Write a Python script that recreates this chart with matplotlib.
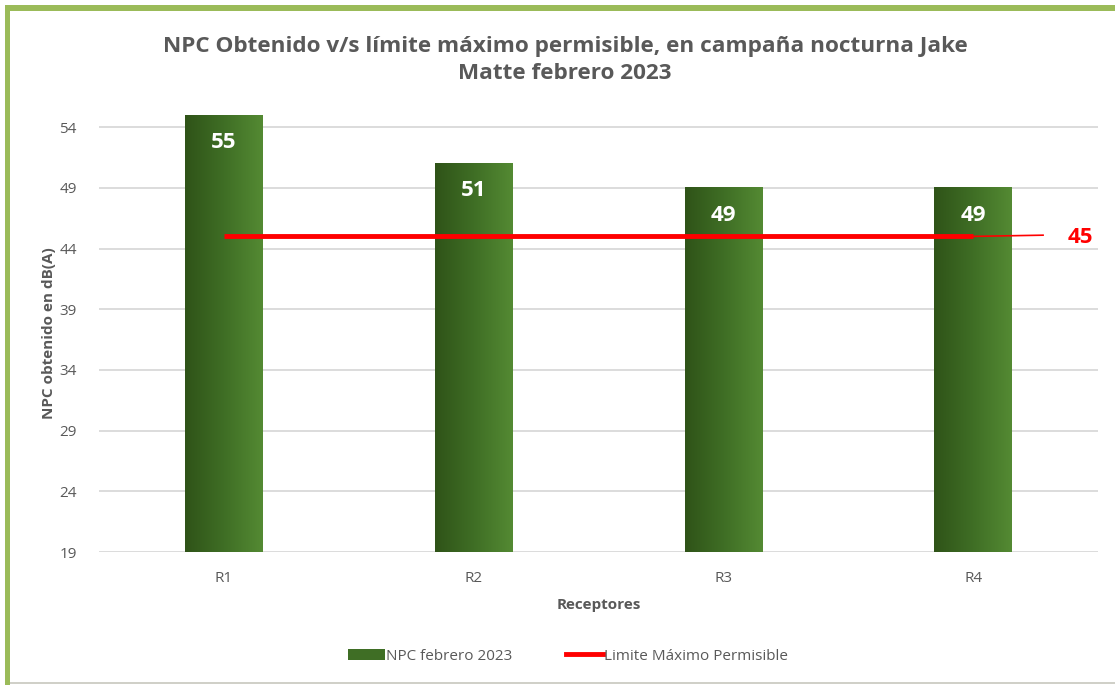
import matplotlib
matplotlib.use("Agg")
import matplotlib.pyplot as plt
import numpy as np
from matplotlib.patches import Rectangle
from matplotlib.lines import Line2D
from matplotlib.colors import LinearSegmentedColormap

categories = ["R1", "R2", "R3", "R4"]
npc_values = [55, 51, 49, 49]
limit_values = [45, 45, 45, 45]
y_ticks = [19, 24, 29, 34, 39, 44, 49, 54]
title = "NPC Obtenido v/s límite máximo permisible, en campaña nocturna Jake\nMatte febrero 2023"

plt.rcParams['font.family'] = ['Open Sans', 'DejaVu Sans']

W, H = 1115, 685
fig = plt.figure(figsize=(W / 100, H / 100), dpi=100)

# outer frame
fig.patches.append(Rectangle((5 / W, 0), 5 / W, 1 - 5 / H, transform=fig.transFigure,
                             facecolor='#9BBB59', edgecolor='none'))
fig.patches.append(Rectangle((5 / W, 1 - 11 / H), 1 - 5 / W, 6 / H, transform=fig.transFigure,
                             facecolor='#9BBB59', edgecolor='none'))
fig.patches.append(Rectangle((10 / W, 1 / H), 1 - 10 / W, 2 / H, transform=fig.transFigure,
                             facecolor='#D0D0C8', edgecolor='none'))

ax = fig.add_axes([99 / W, 1 - 552 / H, (1098 - 99) / W, (552 - 115) / H])
x = np.arange(len(categories))
ax.set_xlim(-0.5, len(categories) - 0.5)
ax.set_ylim(19, 55)

cmap = LinearSegmentedColormap.from_list('g', ['#2F5318', '#3F6E25', '#548A33'])
grad = np.linspace(0, 1, 256).reshape(1, -1)
bw = 0.31
for xi, v in zip(x, npc_values):
    ax.imshow(grad, cmap=cmap, aspect='auto', extent=(xi - bw / 2, xi + bw / 2, 19, v),
              zorder=2, interpolation='bilinear')
    ax.text(xi, v - 2.25, f"{v}", ha='center', va='center', color='white',
            fontsize=16, fontweight='bold', zorder=4)
ax.set_aspect('auto')

ax.plot(x, limit_values, color='#FF0000', lw=3.5, zorder=3, solid_capstyle='butt')
# leader line to label
ax.plot([x[-1], x[-1] + 0.28], [limit_values[-1], limit_values[-1] + 0.1], color='#FF0000', lw=1.2, zorder=3)
ax.text(x[-1] + 0.43, limit_values[-1] - 0.1, f"{limit_values[-1]}", color='#FF0000',
        fontsize=16, fontweight='bold', ha='center', va='center', zorder=4)

ax.set_yticks(y_ticks)
ax.set_xticks(x)
ax.set_xticklabels(categories)
ax.tick_params(axis='both', length=0, labelsize=11, labelcolor='#595959')
ax.tick_params(axis='y', pad=16)
ax.tick_params(axis='x', pad=14)
ax.grid(axis='y', color='#D9D9D9', lw=1.3, zorder=0)
ax.set_axisbelow(True)
for s in ax.spines.values():
    s.set_visible(False)

ax.set_xlabel("Receptores", fontsize=11, fontweight='bold', color='#595959', labelpad=8)
ax.set_ylabel("NPC obtenido en dB(A)", fontsize=11, fontweight='bold', color='#595959', labelpad=2)

fig.text(565 / W, 1 - 60 / H, title, ha='center', va='center', fontsize=16.2,
         fontweight='bold', color='#595959', linespacing=1.35)

# legend
bar_handle = Rectangle((0, 0), 1, 1, facecolor='#3F6E25', edgecolor='none')
line_handle = Line2D([0], [0], color='#FF0000', lw=3.5)
fig.legend([bar_handle, line_handle], ["NPC febrero 2023", "Limite Máximo Permisible"],
           loc='center', bbox_to_anchor=(568 / W, 1 - 656 / H), ncol=2, frameon=False,
           fontsize=11, labelcolor='#595959', handlelength=2.4, handletextpad=0.1,
           columnspacing=3.5, handleheight=0.7)

fig.savefig("out.png", dpi=100, facecolor='white')
